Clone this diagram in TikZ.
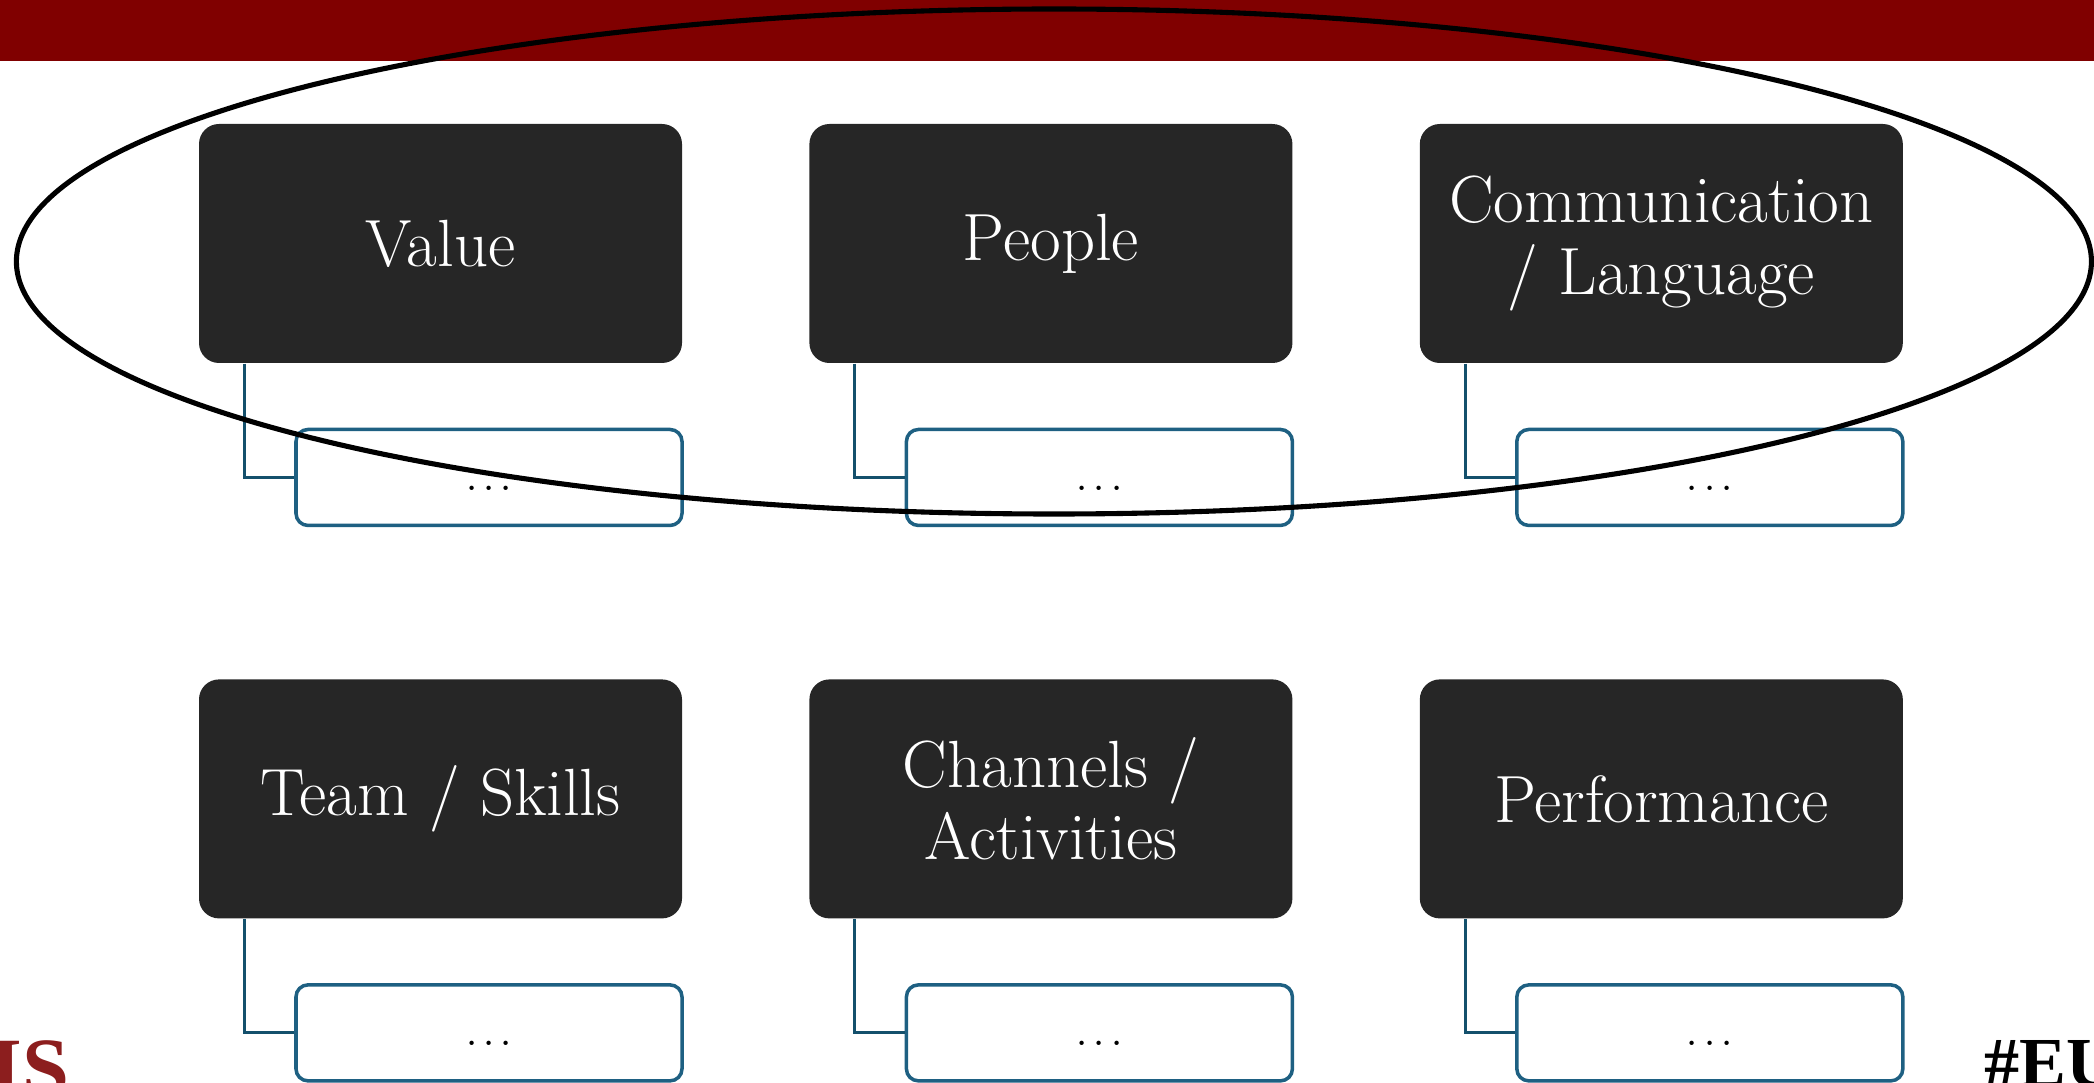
\documentclass[tikz,border=0pt]{standalone}
\usepackage{fontspec}
\usepackage{xcolor}
\usepackage{tikz}
\usetikzlibrary{positioning}
\newfontfamily\logofont{Liberation Serif}

\definecolor{barred}{RGB}{128,0,0}
\definecolor{boxgray}{RGB}{38,38,38}
\definecolor{dotblue}{RGB}{30,96,130}
\definecolor{linkblue}{RGB}{20,80,108}
\definecolor{logored}{RGB}{140,30,30}

% three spaced dots for the empty sub-boxes
\newcommand{\moredots}{\strut.\kern1.2pt.\kern1.2pt.}

\begin{document}
\begin{tikzpicture}
                      [node distance=1.26cm, text centered,
                       topic/.style={rectangle, rounded corners=0.2cm, fill=boxgray, text=white,
                                     minimum width=4.83cm, minimum height=2.39cm, align=center,
                                     font=\fontsize{19}{20.5}\selectfont},
                       detail/.style={rectangle, rounded corners=0.12cm, draw=dotblue, line width=1pt,
                                      fill=white, minimum width=3.86cm, minimum height=0.96cm,
                                      font=\fontsize{15}{18}\selectfont},
                       link/.style={draw=linkblue, line width=0.85pt},
                       ring/.style={draw=black, line width=1.45pt}]
                      \clip (0,0) rectangle (20.94,10.82);
                      % banner %
                      \fill[barred] (0,10.205) rectangle (20.94,10.82);

                      % nodes %
                      \node[topic] (value) at (4.405,8.385) {Value};
                      \node[topic, right=of value] (people) {People};
                      \node[topic, right=of people] (comm) {Communication\\/ Language};
                      \node[topic, below=3.15cm of value] (team) {Team / Skills};
                      \node[topic, right=of team] (channels) {Channels /\\Activities};
                      \node[topic, right=of channels] (perf) {Performance};

                      \node[detail, below=0.64cm of value, xshift=0.485cm] (valuedots) {\moredots};
                      \node[detail, below=0.64cm of people, xshift=0.485cm] (peopledots) {\moredots};
                      \node[detail, below=0.64cm of comm, xshift=0.485cm] (commdots) {\moredots};
                      \node[detail, below=0.64cm of team, xshift=0.485cm] (teamdots) {\moredots};
                      \node[detail, below=0.64cm of channels, xshift=0.485cm] (channelsdots) {\moredots};
                      \node[detail, below=0.64cm of perf, xshift=0.485cm] (perfdots) {\moredots};

                      \node[anchor=north east, inner sep=0, text=logored,
                            font=\logofont\bfseries\fontsize{24}{24}\selectfont] (logo) at (0.70,0.42) {IS};
                      \node[anchor=north west, inner sep=0,
                            font=\logofont\bfseries\fontsize{20}{20}\selectfont] (tag) at (19.84,0.42) {\#EU};

                      % edges %
                      \draw[link] ([xshift=0.46cm]value.south west) |- (valuedots.west);
                      \draw[link] ([xshift=0.46cm]people.south west) |- (peopledots.west);
                      \draw[link] ([xshift=0.46cm]comm.south west) |- (commdots.west);
                      \draw[link] ([xshift=0.46cm]team.south west) |- (teamdots.west);
                      \draw[link] ([xshift=0.46cm]channels.south west) |- (channelsdots.west);
                      \draw[link] ([xshift=0.46cm]perf.south west) |- (perfdots.west);

                      % highlight round the top row %
                      \draw[ring] ([xshift=0.03cm, yshift=-0.18cm]people.center) ellipse [x radius=10.375cm, y radius=2.525cm];
                    \end{tikzpicture}
\end{document}
